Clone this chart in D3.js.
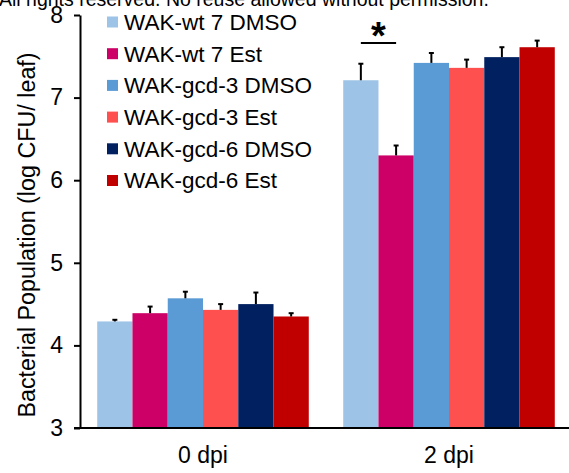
<!DOCTYPE html>
<html>
<head>
<meta charset="utf-8">
<script src="https://cdn.jsdelivr.net/npm/d3@7"></script>
<style>
  html, body { margin: 0; padding: 0; background: #fff; }
  svg { display: block; font-family: "Liberation Sans", Arial, sans-serif; }
</style>
</head>
<body>
<svg id="chart" width="569" height="473"></svg>
<script>
// Bacterial growth in leaves, mean log CFU with error bars
const timepoints = ["0 dpi", "2 dpi"];
const lines = ["WAK-wt 7 DMSO", "WAK-wt 7 Est", "WAK-gcd-3 DMSO", "WAK-gcd-3 Est", "WAK-gcd-6 DMSO", "WAK-gcd-6 Est"];
const colors = ["#9DC3E6", "#CC0066", "#5B9BD5", "#FF5050", "#002060", "#C00000"];
const means0 = [4.29, 4.39, 4.57, 4.43, 4.50, 4.35];
const means2 = [7.21, 6.30, 7.42, 7.36, 7.49, 7.61];
const errs0 = [0.02, 0.08, 0.08, 0.07, 0.14, 0.04];
const errs2 = [0.20, 0.12, 0.12, 0.10, 0.12, 0.08];
const yTicks = [3, 4, 5, 6, 7, 8];

const rows = timepoints.map((t, i) => ({
  t,
  values: lines.map((name, j) => ({
    name,
    mean: [means0, means2][i][j],
    err: [errs0, errs2][i][j]
  }))
}));

const svg = d3.select("#chart");

const y = d3.scaleLinear().domain([3, 8]).range([428, 15]);
const x0 = d3.scaleBand().domain(timepoints).range([80, 572]).paddingInner(0.14).paddingOuter(0.07);
const x1 = d3.scaleBand().domain(lines).range([0, x0.bandwidth()]);
const color = d3.scaleOrdinal().domain(lines).range(colors);

// header line of the page
svg.append("text")
  .attr("x", -1).attr("y", 6)
  .attr("font-size", 19.5)
  .attr("fill", "#000")
  .text("All rights reserved. No reuse allowed without permission.");

// bars
const groups = svg.append("g").selectAll("g")
  .data(rows).join("g")
  .attr("transform", d => `translate(${x0(d.t)},0)`);

groups.selectAll("rect")
  .data(d => d.values).join("rect")
  .attr("x", d => x1(d.name))
  .attr("width", x1.bandwidth())
  .attr("y", d => y(d.mean))
  .attr("height", d => y(3) - y(d.mean))
  .attr("fill", d => color(d.name));

// upper error bars
const eb = groups.selectAll("g.err")
  .data(d => d.values).join("g").attr("class", "err");
eb.append("line")
  .attr("x1", d => x1(d.name) + x1.bandwidth() / 2)
  .attr("x2", d => x1(d.name) + x1.bandwidth() / 2)
  .attr("y1", d => y(d.mean))
  .attr("y2", d => y(d.mean + d.err))
  .attr("stroke", "#000").attr("stroke-width", 2);
eb.append("line")
  .attr("x1", d => x1(d.name) + x1.bandwidth() / 2 - 2.5)
  .attr("x2", d => x1(d.name) + x1.bandwidth() / 2 + 2.5)
  .attr("y1", d => y(d.mean + d.err))
  .attr("y2", d => y(d.mean + d.err))
  .attr("stroke", "#000").attr("stroke-width", 2);

// y axis
const yAxis = svg.append("g")
  .attr("transform", "translate(80,0)")
  .call(d3.axisLeft(y).tickValues(yTicks).tickFormat(d3.format("d")).tickSize(6).tickSizeOuter(0).tickPadding(11));
yAxis.select(".domain").attr("stroke", "#000").attr("stroke-width", 2);
yAxis.selectAll(".tick line").attr("stroke", "#000").attr("stroke-width", 2);
yAxis.selectAll(".tick text").attr("font-size", 23).attr("fill", "#000")
  .attr("font-family", "Liberation Sans, Arial, sans-serif");

// x axis
const xAxis = svg.append("g")
  .attr("transform", `translate(0,${y(3)})`)
  .call(d3.axisBottom(x0).tickSize(0).tickSizeOuter(0).tickPadding(19));
xAxis.select(".domain").attr("d", "M74,0H569").attr("stroke", "#000").attr("stroke-width", 2);
xAxis.selectAll(".tick text").attr("font-size", 23).attr("fill", "#000")
  .attr("font-family", "Liberation Sans, Arial, sans-serif");

// y axis title
svg.append("text")
  .attr("transform", "translate(35,235) rotate(-90)")
  .attr("text-anchor", "middle")
  .attr("font-size", 23.3)
  .attr("fill", "#000")
  .text("Bacterial Population (log CFU/ leaf)");

// significance marker between wt DMSO and wt Est at 2 dpi
const g2 = x0("2 dpi");
const sx1 = g2 + x1(lines[0]) + x1.bandwidth() / 2;
const sx2 = g2 + x1(lines[1]) + x1.bandwidth() / 2;
const sigY = y(7.66);
svg.append("line")
  .attr("x1", sx1).attr("x2", sx2)
  .attr("y1", sigY).attr("y2", sigY)
  .attr("stroke", "#000").attr("stroke-width", 2);
svg.append("text")
  .attr("x", (sx1 + sx2) / 2).attr("y", sigY + 6)
  .attr("text-anchor", "middle")
  .attr("font-size", 38).attr("font-weight", "bold")
  .text("*");

// legend
const legend = svg.append("g").selectAll("g")
  .data(lines).join("g")
  .attr("transform", (d, i) => `translate(107,${22 + i * 31.7})`);
legend.append("rect")
  .attr("x", 0).attr("y", -5.5)
  .attr("width", 11).attr("height", 11)
  .attr("fill", d => color(d));
legend.append("text")
  .attr("x", 17).attr("y", 0).attr("dy", "0.35em")
  .attr("font-size", 22.5)
  .attr("fill", "#000")
  .text(d => d);
</script>
</body>
</html>
